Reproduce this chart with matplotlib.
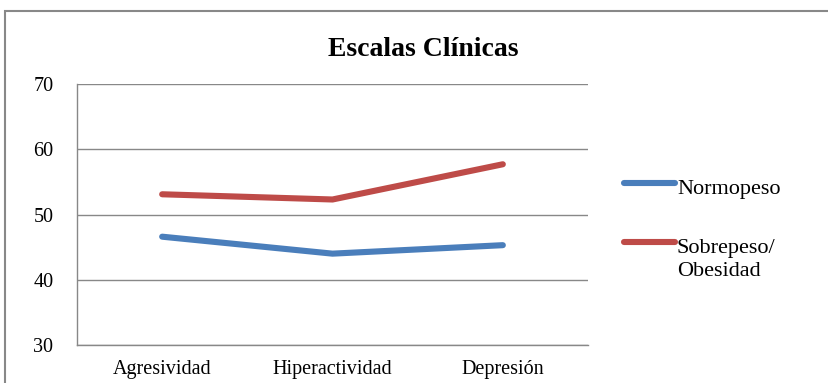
import matplotlib.pyplot as plt
from matplotlib.lines import Line2D
from matplotlib.patches import Rectangle

categories = ["Agresividad", "Hiperactividad", "Depresión"]
normopeso = [46.6, 44.0, 45.3]
sobrepeso = [53.1, 52.3, 57.7]
series_labels = ["Normopeso", "Sobrepeso/\nObesidad"]
series_colors = ["#4A7EBB", "#BE4B48"]
yticks = [30, 40, 50, 60, 70]

plt.rcParams['font.family'] = ['Liberation Serif', 'DejaVu Serif']

W, H = 829, 383
fig = plt.figure(figsize=(W / 100, H / 100), dpi=100)
ax = fig.add_axes([77 / W, 38 / H, 511 / W, 261 / H])

x = range(len(categories))
for vals, col, lab in zip([normopeso, sobrepeso], series_colors, series_labels):
    ax.plot(x, vals, color=col, lw=4.4, solid_capstyle="round", label=lab)

ax.set_xlim(-0.5, len(categories) - 0.5)
ax.set_ylim(30, 70)
ax.set_yticks(yticks)
ax.set_xticks(list(x))
ax.set_xticklabels(categories, fontsize=14.5)
ax.tick_params(axis="y", length=0, pad=17, labelsize=14.5)
ax.tick_params(axis="x", length=0, pad=11)
ax.grid(axis="y", color="#888888", lw=1)
ax.set_axisbelow(True)
for s in ["top", "right"]:
    ax.spines[s].set_visible(False)
for s in ["left", "bottom"]:
    ax.spines[s].set_color("#888888")
    ax.spines[s].set_linewidth(1)

# legend drawn by hand so the red key sits on the first label line
for ypx, col, lab in zip([183, 242], series_colors, series_labels):
    fig.add_artist(Line2D([624 / W, 675 / W], [1 - ypx / H] * 2, transform=fig.transFigure,
                          color=col, lw=4.4, solid_capstyle="round"))
    fig.text(677 / W, 1 - (ypx - 3) / H, lab, ha="left", va="top", fontsize=16, linespacing=1.3)

fig.text(423 / W, 1 - 49 / H, "Escalas Clínicas", ha="center", va="center",
         fontsize=20, fontweight="bold")

fig.patches.append(Rectangle((5 / W, -0.1), 1.2, 1 - 11 / H + 0.1, transform=fig.transFigure,
                             fill=False, edgecolor="#888888", lw=1.5))

fig.savefig("out.png", dpi=100)
